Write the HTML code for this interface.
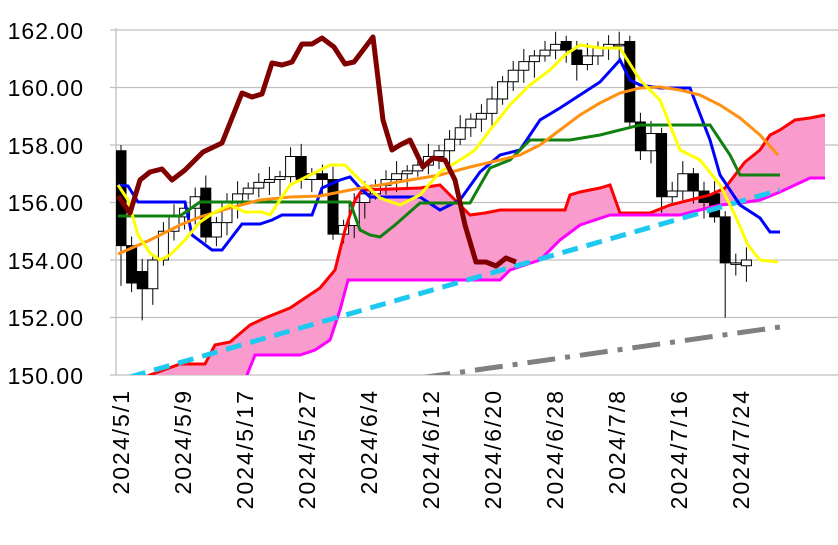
<!DOCTYPE html><html><head><style>body{margin:0;background:#fff}svg{display:block}text{font-family:"Liberation Sans",sans-serif}</style></head><body>
<svg id="s" width="838" height="545" xmlns="http://www.w3.org/2000/svg">
<defs><clipPath id="c"><rect x="116" y="0" width="722" height="375"/></clipPath></defs>
<g stroke="#c0c0c0" stroke-width="1.3">
<line x1="110" y1="30" x2="838" y2="30"/><line x1="110" y1="87.5" x2="838" y2="87.5"/><line x1="110" y1="145" x2="838" y2="145"/><line x1="110" y1="202.5" x2="838" y2="202.5"/><line x1="110" y1="260" x2="838" y2="260"/><line x1="110" y1="317.5" x2="838" y2="317.5"/><line x1="110" y1="375" x2="838" y2="375"/><line x1="116" y1="28" x2="116" y2="375"/>
</g>
<g font-size="23" text-anchor="end" fill="#000" letter-spacing="1">
<text x="84" y="39">162.00</text><text x="84" y="96">160.00</text><text x="84" y="154">158.00</text><text x="84" y="211">156.00</text><text x="84" y="269">154.00</text><text x="84" y="326">152.00</text><text x="84" y="384">150.00</text>
</g>
<g font-size="23" fill="#000" id="xl" letter-spacing="2"></g>
<g clip-path="url(#c)" id="p">
<polygon id="cloud" fill="#f99ccd"/>
<g id="cd"></g>
<polyline fill="none" stroke="#ff0000" stroke-width="3" id="ra"/>
<polyline fill="none" stroke="#ff00ff" stroke-width="3" id="mb"/>
<line x1="130" y1="377" x2="780" y2="190" stroke="#1ec8f0" stroke-width="5" stroke-dasharray="16,9"/>
<line x1="370" y1="385" x2="780" y2="327" stroke="#808080" stroke-width="5" stroke-dasharray="28,10,5,10"/>
<polyline fill="none" stroke="#00f" stroke-width="3" points="118,185 128,186 138,202 185,202 192,235 212,250 222,250 242,224 260,224 272,220 282,215 312,215 322,188 340,180 350,177 360,188 370,197 420,197 440,210 460,200 480,172 500,155 520,150 540,120 560,108 580,95 600,82 620,60 630,80 640,85 660,88 690,88 710,140 720,175 740,205 760,218 770,232 780,232"/>
<polyline fill="none" stroke="#108010" stroke-width="3" points="118,216 180,216 200,202 230,202 350,202 360,230 370,235 380,237 395,225 420,203 470,203 490,168 510,160 530,140 570,140 600,135 640,125 690,125 710,125 730,155 740,175 780,175"/>
<polyline fill="none" stroke="#ff9010" stroke-width="3" points="118,254 150,240 180,225 200,217 230,208 260,200 290,197 320,196 350,190 380,185 410,180 440,175 470,167 500,160 520,155 540,145 560,130 580,115 600,103 620,93 640,88 660,87 680,90 700,95 720,105 740,118 760,135 778,155"/>
<polyline fill="none" stroke="#ffff00" stroke-width="3" points="118,185 128,200 138,235 150,253 160,260 170,255 185,240 200,222 215,212 230,205 245,212 262,212 270,215 290,185 310,175 330,165 345,165 360,180 380,198 400,205 420,195 440,172 460,160 475,150 490,130 510,105 530,85 550,70 565,55 580,45 600,48 620,48 640,80 660,100 680,150 700,160 720,185 735,215 748,245 760,260 778,262"/>
<polyline fill="none" stroke="#800000" stroke-width="5" stroke-linejoin="round" points="118,196 130,213 140,180 150,172 162,169 172,180 185,170 203,152 222,143 242,93 252,97 262,94 272,63 282,65 292,62 302,44 312,44 322,38 334,47 345,64 354,62 373,37 383,120 392,150 400,145 410,140 423,167 433,158 445,160 455,180 465,225 476,262 486,262 496,266 506,258 516,262"/>
</g>
</svg>
<script>
function y(p){return 30+(162-p)*28.75}
var ra="118,400 130,385 150,375 180,364 205,364 215,345 230,342 250,325 265,318 290,308 320,288 335,270 345,230 355,200 362,190 420,188 440,185 455,200 470,215 485,213 500,210 540,210 565,210 570,195 580,192 600,188 610,185 620,213 650,213 670,205 690,200 710,195 725,188 735,175 745,162 760,150 770,135 780,130 795,120 810,118 825,115";
var mb="118,400 245,380 255,355 300,355 315,350 330,340 340,310 348,280 500,280 510,270 540,260 560,240 580,225 610,215 680,215 700,210 720,205 740,203 760,200 780,192 810,178 825,178";
document.getElementById('ra').setAttribute('points',ra);
document.getElementById('mb').setAttribute('points',mb);
var rv=mb.split(' ').reverse().join(' ');
document.getElementById('cloud').setAttribute('points',ra+' 825,178 '+rv);
var cl=[[157.8,154.5],[154.5,153.2],[153.6,153.0],[153.0,154.0],[154.0,155.0],[155.0,155.5],[155.5,155.8],[155.8,156.2],[156.5,154.8],[154.8,155.3],[155.3,156.0],[156.0,156.3],[156.3,156.5],[156.5,156.7],[156.7,156.8],[156.8,156.9],[156.9,157.6],[157.6,156.8],[156.8,157.0],[157.0,156.8],[156.8,154.9],[154.9,155.2],[155.2,156.0],[156.0,156.3],[156.3,156.6],[156.6,156.8],[156.8,157.0],[157.0,157.1],[157.1,157.3],[157.3,157.6],[157.6,157.8],[157.8,158.2],[158.2,158.6],[158.6,158.9],[158.9,159.1],[159.1,159.6],[159.6,160.2],[160.2,160.6],[160.6,160.9],[160.9,161.1],[161.1,161.3],[161.3,161.5],[161.6,161.3],[161.3,160.8],[160.8,161.1],[161.1,161.4],[161.4,161.5],[161.5,161.5],[161.6,158.8],[158.8,157.8],[157.8,158.4],[158.4,156.2],[156.2,156.4],[156.4,157.0],[157.0,156.4],[156.4,156.0],[156.3,155.5],[155.5,153.9],[153.9,153.9],[153.8,154.0]];
var h='';
cl.forEach(function(c,i){var x=121+i*10.6,o=c[0],k=c[1],hi=Math.max(o,k)+0.2+(i%3)*0.12,lo=Math.min(o,k)-0.2-(i%4)*0.12;
if(i==0){hi=158;lo=153.1}if(i==2)lo=151.9;if(i==57)lo=152.0;
h+='<line x1="'+x+'" x2="'+x+'" y1="'+y(hi)+'" y2="'+y(lo)+'" stroke="#000" stroke-width="1"/>';
var t=y(Math.max(o,k)),b=y(Math.min(o,k));if(b-t<1.5)b=t+1.5;
h+='<rect x="'+(x-5)+'" y="'+t+'" width="10" height="'+(b-t)+'" fill="'+(k<o?'#000':'#fff')+'" stroke="#000" stroke-width="1"/>';});
document.getElementById('cd').innerHTML=h;
var L=['2024/5/1','2024/5/9','2024/5/17','2024/5/27','2024/6/4','2024/6/12','2024/6/20','2024/6/28','2024/7/8','2024/7/16','2024/7/24'],xs='';
L.forEach(function(s,i){var x=129+i*62;xs+='<text transform="translate('+x+',389) rotate(-90)" text-anchor="end">'+s+'</text>';});
document.getElementById('xl').innerHTML=xs;
</script>
</body></html>
